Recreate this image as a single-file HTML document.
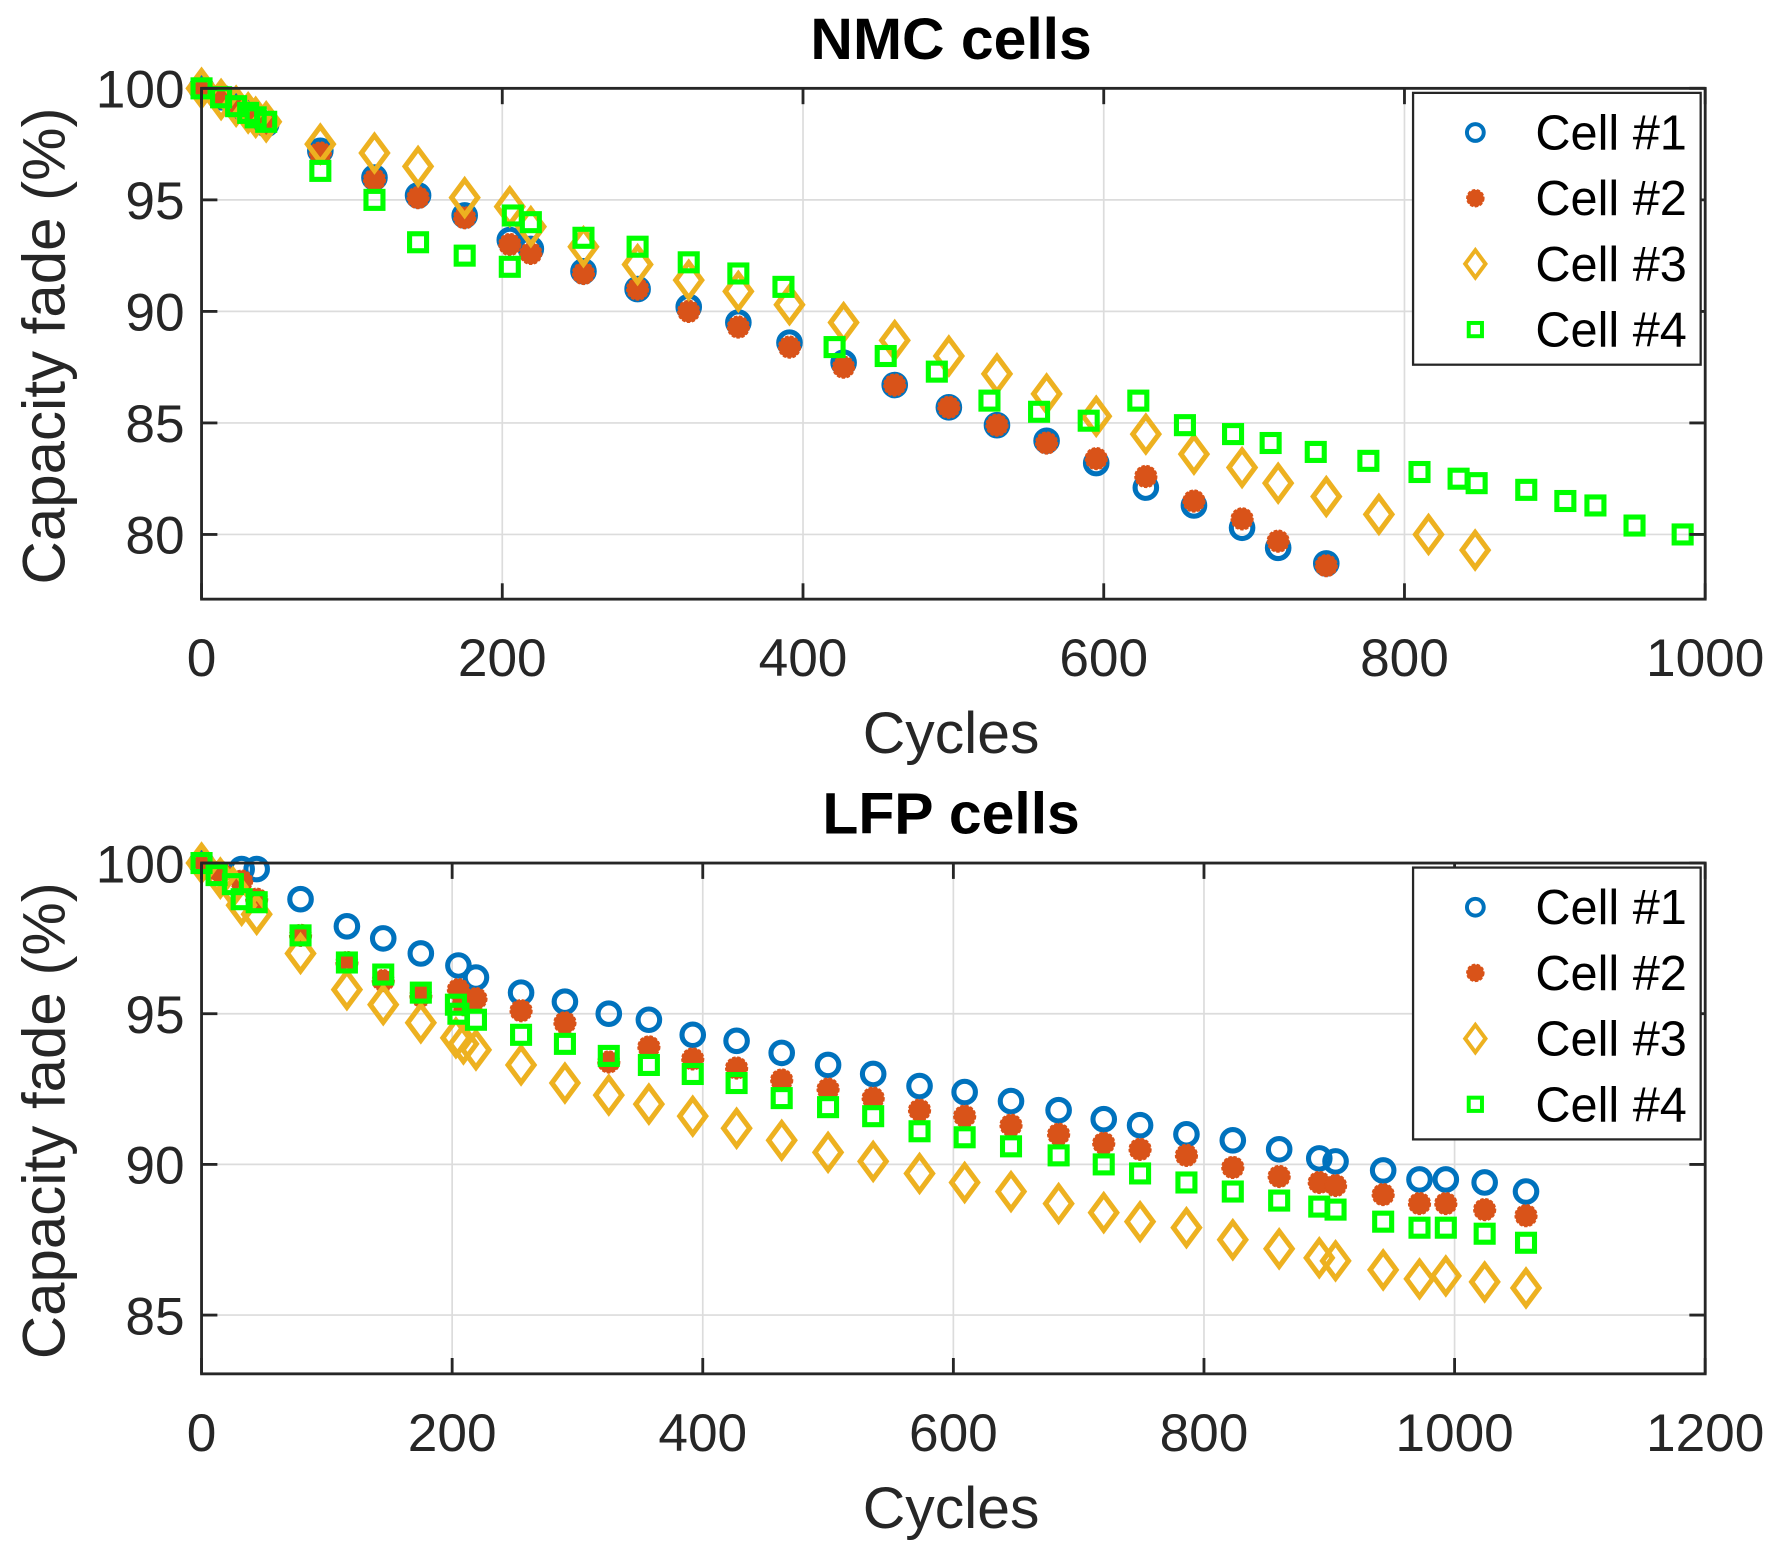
<!DOCTYPE html>
<html><head><meta charset="utf-8"><style>
html,body{margin:0;padding:0;background:#fff;}
svg{display:block;font-family:"Liberation Sans",Arial,sans-serif;}
</style></head><body>
<svg id="fig" width="1772" height="1546" viewBox="0 0 1565 1365" preserveAspectRatio="none" xmlns="http://www.w3.org/2000/svg"></svg>
<script>
// NMC data
const nmcC1x=[0,13,23,31,36,43,79,115,144,175,205,219,254,290,324,357,391,427,461,497,529,562,595,628,660,692,716,748];
const nmcC1y=[100,99.6,99.2,99,98.7,98.4,97.2,96.0,95.2,94.3,93.2,92.8,91.8,91.0,90.2,89.5,88.6,87.7,86.7,85.7,84.9,84.2,83.2,82.1,81.3,80.3,79.4,78.7];
const nmcC2x=[0,13,23,31,36,43,79,115,144,175,205,219,254,290,324,357,391,427,461,497,529,562,595,628,660,692,716,748];
const nmcC2y=[100,99.6,99.2,98.9,98.7,98.4,97.1,95.9,95.1,94.2,93.0,92.6,91.7,91.0,90.0,89.3,88.4,87.5,86.7,85.7,84.9,84.1,83.4,82.6,81.5,80.7,79.7,78.6];
const nmcC3x=[0,13,23,31,36,43,79,115,144,175,205,219,254,290,324,357,391,427,461,497,529,562,595,628,660,692,716,748,783,816,847];
const nmcC3y=[100,99.5,99.2,98.9,98.7,98.5,97.5,97.1,96.5,95.1,94.7,93.8,92.9,92.1,91.4,90.9,90.3,89.5,88.7,88.0,87.2,86.3,85.3,84.5,83.6,83.0,82.3,81.7,80.9,80.0,79.3];
const nmcC4x=[0,13,23,31,36,43,79,115,144,175,205,207,219,254,290,324,357,387,421,455,489,524,557,590,623,654,686,711,741,776,810,836,848,881,907,927,953,985];
const nmcC4y=[100,99.6,99.2,98.9,98.7,98.5,96.3,95.0,93.1,92.5,92.0,94.3,94.0,93.3,92.9,92.2,91.7,91.1,88.4,88.0,87.3,86.0,85.5,85.1,86.0,84.9,84.5,84.1,83.7,83.3,82.8,82.5,82.3,82.0,81.5,81.3,80.4,80.0];
// LFP data
const lfpX=[0,32,44,79,116,145,175,205,219,255,290,325,357,392,427,463,500,536,573,609,646,684,720,749,786,823,860,892,905,943,972,993,1024,1057];
const lfpC1y=[100,99.8,99.8,98.8,97.9,97.5,97.0,96.6,96.2,95.7,95.4,95.0,94.8,94.3,94.1,93.7,93.3,93.0,92.6,92.4,92.1,91.8,91.5,91.3,91.0,90.8,90.5,90.2,90.1,89.8,89.5,89.5,89.4,89.1];
const lfpC2x=[0,15,32,44,79,116,145,175,205,209,219,255,290,325,357,392,427,463,500,536,573,609,646,684,720,749,786,823,860,892,905,943,972,993,1024,1057];
const lfpC2y=[100,99.7,99.4,98.8,97.6,96.7,96.1,95.6,95.8,95.3,95.5,95.1,94.7,93.4,93.9,93.5,93.2,92.8,92.5,92.2,91.8,91.6,91.3,91.0,90.7,90.5,90.3,89.9,89.6,89.4,89.3,89.0,88.7,88.7,88.5,88.3];
const lfpC3x=[0,15,25,32,44,79,116,145,175,203,209,219,255,290,325,357,392,427,463,500,536,573,609,646,684,720,749,786,823,860,892,905,943,972,993,1024,1057];
const lfpC3y=[100,99.5,99.2,98.6,98.3,97.0,95.8,95.3,94.7,94.2,94.0,93.8,93.3,92.7,92.3,92.0,91.6,91.2,90.8,90.4,90.1,89.7,89.4,89.1,88.7,88.4,88.1,87.9,87.5,87.2,86.9,86.8,86.5,86.2,86.3,86.1,85.9];
const lfpC4x=[0,12,25,32,44,79,116,145,175,203,205,219,255,290,325,357,392,427,463,500,536,573,609,646,684,720,749,786,823,860,892,905,943,972,993,1024,1057];
const lfpC4y=[100,99.6,99.3,98.8,98.7,97.6,96.7,96.3,95.7,95.3,95.0,94.8,94.3,94.0,93.6,93.3,93.0,92.7,92.2,91.9,91.6,91.1,90.9,90.6,90.3,90.0,89.7,89.4,89.1,88.8,88.6,88.5,88.1,87.9,87.9,87.7,87.4];
const nmcXTicks=[0,200,400,600,800,1000];
const nmcYTicks=[80,85,90,95,100];
const lfpXTicks=[0,200,400,600,800,1000,1200];
const lfpYTicks=[85,90,95,100];
const legendLabels=["Cell #1","Cell #2","Cell #3","Cell #4"];

const NS="http://www.w3.org/2000/svg";
const svg=document.getElementById('fig');
function mk(tag,attrs,parent){const e=document.createElementNS(NS,tag);for(const k in attrs)e.setAttribute(k,attrs[k]);(parent||svg).appendChild(e);return e;}
const COLORS=['#0072BD','#D95319','#EDB120','#00FF00'];

function marker(g,type,x,y,s){
  let e;
  if(type===0){e=mk('circle',{cx:x,cy:y,r:9.5*s,fill:'none',stroke:COLORS[0],'stroke-width':4.5*s},g);}
  else if(type===1){e=mk('circle',{cx:x,cy:y,r:9.5*s,fill:COLORS[1],stroke:COLORS[1],'stroke-width':1.5,'stroke-dasharray':'3 1.5'},g);}
  else if(type===2){const w=11.5*s,h=15.5*s;e=mk('polygon',{points:`${x},${y-h} ${x+w},${y} ${x},${y+h} ${x-w},${y}`,fill:'none',stroke:COLORS[2],'stroke-width':4.5*s},g);}
  else {const a=7.5*s;e=mk('rect',{x:x-a,y:y-a,width:2*a,height:2*a,fill:'none',stroke:COLORS[3],'stroke-width':4.5*s},g);}
  return e;
}

function panel(name,title,L,R,T,B,xmax,ymin,ymax,xt,yt,series){
  const g=mk('g',{});
  
  
  const X=v=>L+(v/xmax)*(R-L);
  const Y=v=>T+(ymax-v)/(ymax-ymin)*(B-T);
  xt.forEach(t=>{const l=mk('line',{x1:X(t),x2:X(t),y1:T,y2:B,stroke:'#dcdcdc','stroke-width':1.5},g);
    });
  yt.forEach(t=>{const l=mk('line',{x1:L,x2:R,y1:Y(t),y2:Y(t),stroke:'#dcdcdc','stroke-width':1.5},g);
    });
  series.forEach((s,i)=>{
    const sg=mk('g',{},g);
    
    
    s[0].forEach((xv,j)=>{const m=marker(sg,i,X(xv),Y(s[1][j]),1);
      
      });
  });
  const box=mk('rect',{x:L,y:T,width:R-L,height:B-T,fill:'none',stroke:'#262626','stroke-width':2.5},g);
  
  xt.forEach(t=>{mk('line',{x1:X(t),x2:X(t),y1:B,y2:B-14,stroke:'#262626','stroke-width':2.5},g);mk('line',{x1:X(t),x2:X(t),y1:T,y2:T+14,stroke:'#262626','stroke-width':2.5},g);
    const tx=mk('text',{x:X(t),y:B+68,'text-anchor':'middle','font-size':47,fill:'#262626'},g);tx.textContent=t;
    });
  yt.forEach(t=>{mk('line',{x1:L,x2:L+14,y1:Y(t),y2:Y(t),stroke:'#262626','stroke-width':2.5},g);mk('line',{x1:R,x2:R-14,y1:Y(t),y2:Y(t),stroke:'#262626','stroke-width':2.5},g);
    const tx=mk('text',{x:L-15,y:Y(t)+17,'text-anchor':'end','font-size':47,fill:'#262626'},g);tx.textContent=t;
    });
  const tt=mk('text',{x:(L+R)/2-2,y:T-26,'text-anchor':'middle','font-size':52,'font-weight':'bold',fill:'#000'},g);tt.textContent=title;
  
  const xl=mk('text',{x:(L+R)/2-2,y:B+136,'text-anchor':'middle','font-size':52,fill:'#262626'},g);xl.textContent='Cycles';
  
  const cy=(T+B)/2+2;
  const yl=mk('text',{x:57,y:cy,'text-anchor':'middle','font-size':53,fill:'#262626',transform:`rotate(-90 57 ${cy})`},g);yl.textContent='Capacity fade (%)';
  
  const lg=mk('g',{},g);
  
  mk('rect',{x:1248,y:T+4,width:254,height:240,fill:'#fff',stroke:'#262626','stroke-width':2},lg);
  legendLabels.forEach((lab,i)=>{
    const yy=T+39+i*58;
    const m=marker(lg,i,1303,yy,0.78);
    
    const tx=mk('text',{x:1356,y:yy+15,'font-size':43,fill:'#000'},lg);tx.textContent=lab;
    
  });
}
panel('nmc','NMC cells',178,1506,78,529,1000,77.1,100,nmcXTicks,nmcYTicks,
  [[nmcC1x,nmcC1y],[nmcC2x,nmcC2y],[nmcC3x,nmcC3y],[nmcC4x,nmcC4y]]);
panel('lfp','LFP cells',178,1506,762,1213,1200,83.05,100,lfpXTicks,lfpYTicks,
  [[lfpX,lfpC1y],[lfpC2x,lfpC2y],[lfpC3x,lfpC3y],[lfpC4x,lfpC4y]]);
</script>
</body></html>
